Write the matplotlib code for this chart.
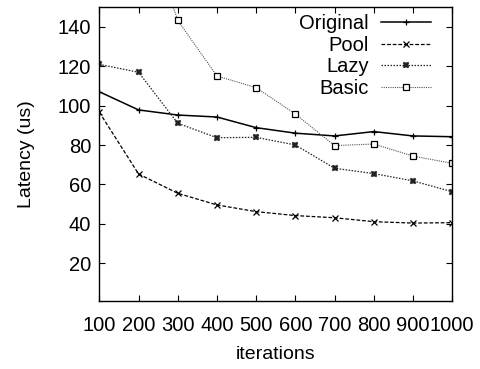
import matplotlib
matplotlib.use("Agg")
import matplotlib.pyplot as plt

plt.rcParams['font.family'] = ['Liberation Sans', 'DejaVu Sans']

iterations = [100, 200, 300, 400, 500, 600, 700, 800, 900, 1000]
original = [107, 97.8, 95.2, 94.2, 88.8, 86.0, 84.6, 86.8, 84.6, 84.2]
pool = [96.6, 65.3, 55.5, 49.6, 46.2, 44.2, 43.1, 41.1, 40.4, 40.6]
lazy = [120.9, 116.9, 91.0, 83.7, 83.9, 80.0, 68.2, 65.5, 61.8, 56.3]
basic = [250, 202, 143.2, 115.0, 109.1, 95.7, 79.7, 80.5, 74.4, 70.7]

y_ticks = [20, 40, 60, 80, 100, 120, 140]

fig = plt.figure(figsize=(4.8, 3.69), dpi=100)
ax = fig.add_axes([0.207, 0.185, 0.735, 0.796])

ax.plot(iterations, original, color='black', lw=1.1, ls='-', marker='+',
        ms=5, mew=0.9, label='Original')
ax.plot(iterations, pool, color='black', lw=0.9, ls=(0, (3, 1.5)), marker='x',
        ms=4, mew=0.9, label='Pool')
ax.plot(iterations, lazy, color='#222222', lw=0.9, ls=(0, (1.2, 1.2)), marker='X',
        ms=4.5, mew=0.3, label='Lazy')
ax.plot(iterations, basic, color='#555555', lw=0.8, ls=(0, (1, 1)), marker='s',
        ms=4, mew=0.9, mfc='white', mec='black', label='Basic')

ax.set_xlim(100, 1000)
ax.set_ylim(1, 150)
ax.set_xticks(iterations)
ax.set_yticks(y_ticks)
ax.tick_params(direction='in', length=4, width=0.8, top=True, right=True,
               labelsize=14.5, pad=6)
ax.tick_params(axis='x', pad=11)
ax.set_xlabel('iterations', fontsize=14, labelpad=8)
ax.set_ylabel('Latency (us)', fontsize=14, labelpad=16)
for s in ax.spines.values():
    s.set_linewidth(1.0)

ax.legend(loc='upper right', bbox_to_anchor=(0.94, 0.975), frameon=False,
          markerfirst=False, fontsize=14.5, handlelength=2.5, handletextpad=0.6,
          labelspacing=0.12, borderaxespad=0, borderpad=0)

fig.savefig('out.png', dpi=100)
